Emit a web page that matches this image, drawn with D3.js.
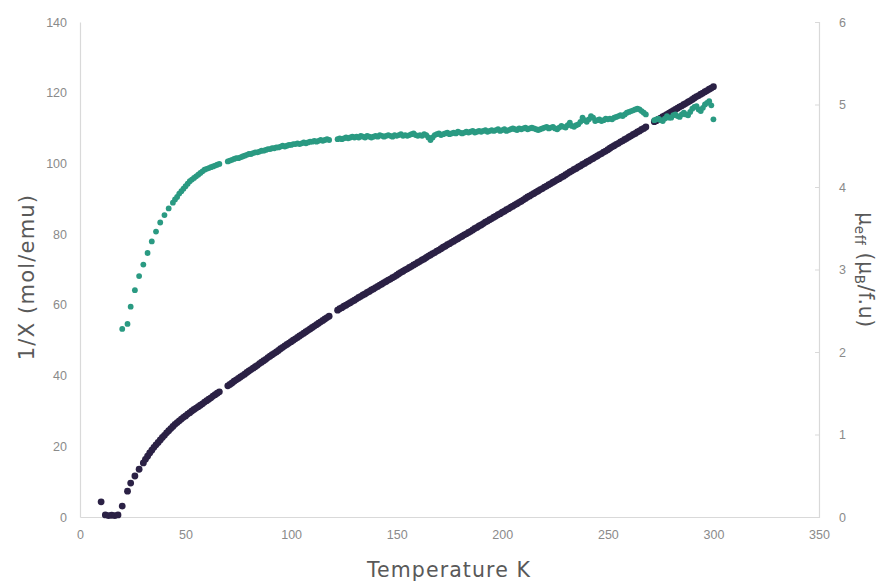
<!DOCTYPE html>
<html>
<head>
<meta charset="utf-8">
<script src="https://cdn.jsdelivr.net/npm/d3@7"></script>
<style>
  html, body { margin: 0; padding: 0; background: #fff; }
  svg { display: block; font-family: Lato, "Open Sans", sans-serif; }
  .title { font-family: "DejaVu Sans", Lato, sans-serif; }
</style>
</head>
<body>
<svg id="chart" width="882" height="583"></svg>
<script>
// Inverse susceptibility 1/χ (left axis), temperatures in K
const tempChi = [10, 12, 13.5, 15, 16.5, 18, 20, 22.5, 24, 26, 28, 30, 31, 32, 33, 34, 35, 36, 37, 38, 39, 40, 41, 42, 43, 44,
  45, 46, 47, 48, 49, 50, 51, 52, 53, 54, 55, 56, 57, 58, 59, 60, 61, 62, 63, 64, 65, 66,
  70, 71, 72, 73, 74, 75, 76, 77, 78, 79, 80, 81, 82, 83, 84, 85, 86, 87, 88, 89,
  90, 91, 92, 93, 94, 95, 96, 97, 98, 99, 100, 101, 102, 103, 104, 105, 106, 107, 108, 109,
  110, 111, 112, 113, 114, 115, 116, 117, 118, 122, 123, 124, 125, 126, 127, 128, 129,
  130, 131, 132, 133, 134, 135, 136, 137, 138, 139, 140, 141, 142, 143, 144, 145, 146, 147, 148, 149,
  150, 151, 152, 153, 154, 155, 156, 157, 158, 159, 160, 161, 162, 163, 164, 165, 166, 167, 168, 169,
  170, 171, 172, 173, 174, 175, 176, 177, 178, 179, 180, 181, 182, 183, 184, 185, 186, 187, 188, 189,
  190, 191, 192, 193, 194, 195, 196, 197, 198, 199, 200, 201, 202, 203, 204, 205, 206, 207, 208, 209,
  210, 211, 212, 213, 214, 215, 216, 217, 218, 219, 220, 221, 222, 223, 224, 225, 226, 227, 228, 229,
  230, 231, 232, 233, 234, 235, 236, 237, 238, 239, 240, 241, 242, 243, 244, 245, 246, 247, 248, 249,
  250, 251, 252, 253, 254, 255, 256, 257, 258, 259, 260, 261, 262, 263, 264, 265, 266, 267, 268,
  272, 273, 274, 275, 276, 277, 278, 279, 280, 281, 282, 283, 284, 285, 286, 287, 288, 289,
  290, 291, 292, 293, 294, 295, 296, 297, 298, 299, 300];
const chiInv = [4.3, 0.6, 0.4, 0.5, 0.4, 0.6, 3.1, 7.3, 9.6, 11.6, 13.5, 15.3, 16.3, 17.2, 18.1, 18.9, 19.7, 20.4, 21.1, 21.8, 22.5, 23.1, 23.8, 24.4, 25.0, 25.6,
  26.2, 26.7, 27.2, 27.7, 28.2, 28.6, 29.1, 29.5, 30.0, 30.4, 30.8, 31.2, 31.6, 32.0, 32.5, 32.9, 33.3, 33.7, 34.2, 34.6, 35.0, 35.4,
  37.1, 37.5, 37.9, 38.4, 38.8, 39.2, 39.6, 40.0, 40.4, 40.9, 41.3, 41.7, 42.1, 42.5, 42.9, 43.4, 43.8, 44.2, 44.6, 45.1,
  45.5, 45.9, 46.3, 46.7, 47.1, 47.6, 48.0, 48.4, 48.8, 49.2, 49.6, 50.0, 50.4, 50.8, 51.2, 51.6, 52.0, 52.4, 52.8, 53.2,
  53.6, 54.0, 54.4, 54.8, 55.2, 55.6, 56.0, 56.4, 56.8, 58.5, 58.9, 59.2, 59.6, 59.9, 60.3, 60.6, 61.0,
  61.3, 61.7, 62.1, 62.4, 62.8, 63.1, 63.5, 63.8, 64.2, 64.5, 64.9, 65.2, 65.6, 65.9, 66.3, 66.6, 67.0, 67.3, 67.7, 68.0,
  68.4, 68.8, 69.2, 69.5, 69.9, 70.2, 70.6, 70.9, 71.3, 71.6, 72.0, 72.3, 72.7, 73.0, 73.4, 73.8, 74.1, 74.5, 74.8, 75.2,
  75.5, 75.9, 76.3, 76.6, 77.0, 77.3, 77.7, 78.0, 78.4, 78.7, 79.1, 79.4, 79.8, 80.1, 80.5, 80.8, 81.2, 81.6, 81.9, 82.3,
  82.6, 83.0, 83.4, 83.7, 84.1, 84.4, 84.8, 85.1, 85.5, 85.8, 86.2, 86.5, 86.9, 87.2, 87.6, 87.9, 88.3, 88.6, 89.0, 89.3,
  89.7, 90.1, 90.5, 90.8, 91.2, 91.5, 91.9, 92.2, 92.6, 92.9, 93.3, 93.6, 94.0, 94.3, 94.7, 95.0, 95.4, 95.7, 96.1, 96.4,
  96.8, 97.2, 97.6, 97.9, 98.3, 98.6, 99.0, 99.3, 99.7, 100.0, 100.4, 100.7, 101.1, 101.4, 101.8, 102.1, 102.5, 102.8, 103.2, 103.5,
  103.9, 104.3, 104.7, 105.0, 105.4, 105.7, 106.1, 106.4, 106.8, 107.1, 107.5, 107.8, 108.2, 108.5, 108.9, 109.2, 109.6, 109.9, 110.3,
  111.8, 112.1, 112.5, 112.8, 113.2, 113.5, 113.9, 114.2, 114.6, 114.9, 115.3, 115.6, 116.0, 116.3, 116.7, 117.0, 117.4, 117.7,
  118.1, 118.5, 118.9, 119.2, 119.6, 119.9, 120.3, 120.6, 121.0, 121.3, 121.7];

// Effective moment μeff (right axis), temperatures in K
const tempMu = [20, 22.5, 24, 26, 28, 30, 32, 34, 36, 38, 40, 42, 44,
  45, 46, 47, 48, 49, 50, 51, 52, 53, 54, 55, 56, 57, 58, 59, 60, 61, 62, 63, 64, 65, 66,
  70, 71, 72, 73, 74, 75, 76, 77, 78, 79, 80, 81, 82, 83, 84, 85, 86, 87, 88, 89,
  90, 91, 92, 93, 94, 95, 96, 97, 98, 99, 100, 101, 102, 103, 104, 105, 106, 107, 108, 109,
  110, 111, 112, 113, 114, 115, 116, 117, 118, 122, 123, 124, 125, 126, 127, 128, 129,
  130, 131, 132, 133, 134, 135, 136, 137, 138, 139, 140, 141, 142, 143, 144, 145, 146, 147, 148, 149,
  150, 151, 152, 153, 154, 155, 156, 157, 158, 159, 160, 161, 162, 163, 164, 165, 166, 167, 168, 169,
  170, 171, 172, 173, 174, 175, 176, 177, 178, 179, 180, 181, 182, 183, 184, 185, 186, 187, 188, 189,
  190, 191, 192, 193, 194, 195, 196, 197, 198, 199, 200, 201, 202, 203, 204, 205, 206, 207, 208, 209,
  210, 211, 212, 213, 214, 215, 216, 217, 218, 219, 220, 221, 222, 223, 224, 225, 226, 227, 228, 229,
  230, 231, 232, 233, 234, 235, 236, 237, 238, 239, 240, 241, 242, 243, 244, 245, 246, 247, 248, 249,
  250, 251, 252, 253, 254, 255, 256, 257, 258, 259, 260, 261, 262, 263, 264, 265, 266, 267, 268,
  272, 273, 274, 275, 276, 277, 278, 279, 280, 281, 282, 283, 284, 285, 286, 287, 288, 289,
  290, 291, 292, 293, 294, 295, 296, 297, 298, 299, 300];
const muEff = [2.28, 2.34, 2.55, 2.75, 2.92, 3.06, 3.20, 3.34, 3.46, 3.57, 3.66, 3.74, 3.81,
  3.85, 3.88, 3.92, 3.95, 3.98, 4.01, 4.04, 4.07, 4.09, 4.11, 4.13, 4.15, 4.17, 4.19, 4.21, 4.22, 4.23, 4.24, 4.25, 4.26, 4.27, 4.28,
  4.31, 4.32, 4.33, 4.34, 4.35, 4.35, 4.36, 4.37, 4.38, 4.39, 4.40, 4.40, 4.41, 4.42, 4.42, 4.43, 4.44, 4.44, 4.45, 4.46,
  4.46, 4.47, 4.47, 4.48, 4.48, 4.49, 4.50, 4.49, 4.50, 4.51, 4.51, 4.52, 4.52, 4.53, 4.52, 4.53, 4.54, 4.53, 4.54, 4.55,
  4.55, 4.56, 4.55, 4.56, 4.57, 4.56, 4.57, 4.58, 4.57, 4.58, 4.59, 4.58, 4.59, 4.60, 4.59, 4.60, 4.61,
  4.60, 4.61, 4.60, 4.62, 4.61, 4.60, 4.62, 4.61, 4.60, 4.61, 4.62, 4.61, 4.63, 4.62, 4.61, 4.62, 4.63, 4.62, 4.61, 4.63,
  4.62, 4.63, 4.64, 4.62, 4.63, 4.62, 4.63, 4.64, 4.65, 4.63, 4.62, 4.63, 4.62, 4.64, 4.63, 4.60, 4.57, 4.60, 4.63, 4.64,
  4.65, 4.63, 4.64, 4.65, 4.66, 4.64, 4.65, 4.66, 4.65, 4.67, 4.66, 4.65, 4.66, 4.67, 4.66, 4.67, 4.68, 4.66, 4.67, 4.68,
  4.67, 4.68, 4.69, 4.67, 4.68, 4.69, 4.68, 4.69, 4.70, 4.68, 4.69, 4.70, 4.68, 4.69, 4.70, 4.71, 4.70, 4.69, 4.71, 4.70,
  4.71, 4.72, 4.70, 4.71, 4.72, 4.71, 4.70, 4.69, 4.70, 4.71, 4.72, 4.73, 4.71, 4.72, 4.73, 4.71, 4.70, 4.72, 4.74, 4.73,
  4.72, 4.75, 4.78, 4.74, 4.73, 4.75, 4.76, 4.79, 4.84, 4.81, 4.79, 4.82, 4.86, 4.84, 4.80, 4.81, 4.82, 4.80, 4.81, 4.83,
  4.82, 4.83, 4.82, 4.84, 4.85, 4.86, 4.87, 4.86, 4.88, 4.90, 4.91, 4.92, 4.93, 4.94, 4.95, 4.94, 4.92, 4.90, 4.88,
  4.81, 4.82, 4.83, 4.81, 4.80, 4.83, 4.86, 4.84, 4.84, 4.87, 4.88, 4.86, 4.85, 4.88, 4.90, 4.88, 4.87, 4.91,
  4.95, 4.97, 4.98, 4.94, 4.92, 4.96, 5.00, 5.02, 5.04, 4.99, 4.82];

const xTicks = [0, 50, 100, 150, 200, 250, 300, 350];
const leftTicks = [0, 20, 40, 60, 80, 100, 120, 140];
const rightTicks = [0, 1, 2, 3, 4, 5, 6];

const plot = { left: 80, right: 819, top: 22, bottom: 517 };

const svg = d3.select("#chart");

const x = d3.scaleLinear().domain([0, 350]).range([plot.left, plot.right]);
const yL = d3.scaleLinear().domain([0, 140]).range([plot.bottom, plot.top]);
const yR = d3.scaleLinear().domain([0, 6]).range([plot.bottom, plot.top]);

const axisColor = "#d9d9d9";
const tickText = "#8a8a8a";
const titleText = "#595959";

// Axes
const gx = svg.append("g").attr("transform", `translate(0,${plot.bottom})`)
  .call(d3.axisBottom(x).tickValues(xTicks).tickSize(0).tickPadding(13).tickFormat(d3.format("d")));
const gl = svg.append("g").attr("transform", `translate(${plot.left},0)`)
  .call(d3.axisLeft(yL).tickValues(leftTicks).tickSize(0).tickPadding(13).tickFormat(d3.format("d")));
const gr = svg.append("g").attr("transform", `translate(${plot.right},0)`)
  .call(d3.axisRight(yR).tickValues(rightTicks).tickSize(-4).tickPadding(20).tickFormat(d3.format("d")));

[gx, gl, gr].forEach(g => {
  g.select(".domain").attr("stroke", axisColor).attr("stroke-width", 1.2);
  g.selectAll(".tick line").attr("stroke", axisColor);
  g.selectAll(".tick text").attr("fill", tickText).attr("font-size", 12.5);
});

// Series points (μeff drawn last, on top)
const chiData = tempChi.map((t, i) => [t, chiInv[i]]);
const muData = tempMu.map((t, i) => [t, muEff[i]]);

svg.append("g").selectAll("circle").data(chiData).join("circle")
  .attr("cx", d => x(d[0])).attr("cy", d => yL(d[1]))
  .attr("r", 3.4).attr("fill", "#2b2145");

svg.append("g").selectAll("circle").data(muData).join("circle")
  .attr("cx", d => x(d[0])).attr("cy", d => yR(d[1]))
  .attr("r", 2.9).attr("fill", "#2a9a82");

// Axis titles
svg.append("text").attr("class", "title")
  .attr("x", 449).attr("y", 577)
  .attr("text-anchor", "middle").attr("font-size", 20.5).attr("fill", titleText)
  .attr("letter-spacing", 1.1)
  .text("Temperature K");

svg.append("text").attr("class", "title")
  .attr("transform", `translate(34,277) rotate(-90)`)
  .attr("text-anchor", "middle").attr("font-size", 21).attr("fill", titleText)
  .attr("letter-spacing", 1.2)
  .text("1/X (mol/emu)");

const rt = svg.append("text").attr("class", "title")
  .attr("transform", `translate(859,270) rotate(90)`)
  .attr("text-anchor", "middle").attr("font-size", 20.5).attr("fill", titleText)
  .attr("letter-spacing", 0.6);
rt.append("tspan").text("μ");
rt.append("tspan").attr("font-size", 13.5).attr("dy", 4).text("eff");
rt.append("tspan").attr("dy", -4).text(" (μ");
rt.append("tspan").attr("font-size", 13.5).attr("dy", 4).text("B");
rt.append("tspan").attr("dy", -4).text("/f.u)");
</script>
</body>
</html>
